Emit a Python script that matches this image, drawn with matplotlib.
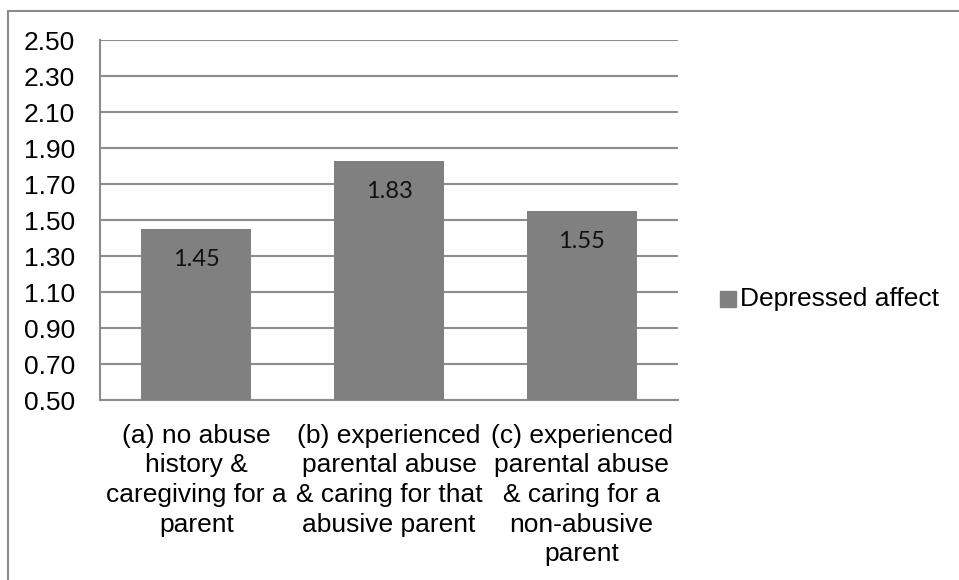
import matplotlib
matplotlib.use('Agg')
import matplotlib.pyplot as plt
from matplotlib.patches import Rectangle

# data
categories = ['(a) no abuse\nhistory &\ncaregiving for a\nparent',
              '(b) experienced\nparental abuse\n& caring for that\nabusive parent',
              '(c) experienced\nparental abuse\n& caring for a\nnon-abusive\nparent']
values = [1.45, 1.83, 1.55]
yticks = [0.50, 0.70, 0.90, 1.10, 1.30, 1.50, 1.70, 1.90, 2.10, 2.30, 2.50]
series_name = 'Depressed affect'

bar_color = '#808080'
grid_color = '#8c8c8c'

plt.rcParams['font.family'] = ['Liberation Sans', 'DejaVu Sans']

fig = plt.figure(figsize=(9.59, 5.8), dpi=100)
# outer chart border (right/bottom edges fall outside the image)
fig.patches.append(Rectangle((8 / 959, -0.1), 1.2, 1 - 11 / 580 + 0.1,
                             transform=fig.transFigure, fill=False,
                             edgecolor='#8a8a8a', linewidth=1.5))

ax = fig.add_axes([100 / 959, 1 - 400 / 580, 578 / 959, 360 / 580])
x = list(range(len(categories)))
bars = ax.bar(x, values, width=0.57, color=bar_color, zorder=3)
ax.set_xlim(-0.5, 2.5)
ax.set_ylim(0.5, 2.5)
ax.set_yticks(yticks)
ax.set_yticklabels([f'{t:.2f}' for t in yticks], fontsize=19)
ax.set_xticks(x)
ax.set_xticklabels(categories, fontsize=19, linespacing=1.3)
ax.tick_params(axis='y', length=0, pad=18)
ax.tick_params(axis='x', length=0, pad=17)
ax.yaxis.grid(True, color=grid_color, linewidth=1.5, zorder=0)
for side in ['top', 'right']:
    ax.spines[side].set_visible(False)
for side in ['left', 'bottom']:
    ax.spines[side].set_color(grid_color)
    ax.spines[side].set_linewidth(1.5)

for b, v in zip(bars, values):
    ax.annotate(f'{v:.2f}', (b.get_x() + b.get_width() / 2, v),
                xytext=(0, -31), textcoords='offset pixels',
                ha='center', va='center', fontsize=17, family='Lato',
                color='#111111', zorder=4)

# legend
fig.patches.append(Rectangle((720 / 959, 1 - 307 / 580), 16 / 959, 16 / 580,
                             transform=fig.transFigure, color=bar_color))
fig.text(740 / 959, 1 - 299 / 580, series_name, fontsize=19, va='center')

fig.savefig('out.png', dpi=100, facecolor='white')
